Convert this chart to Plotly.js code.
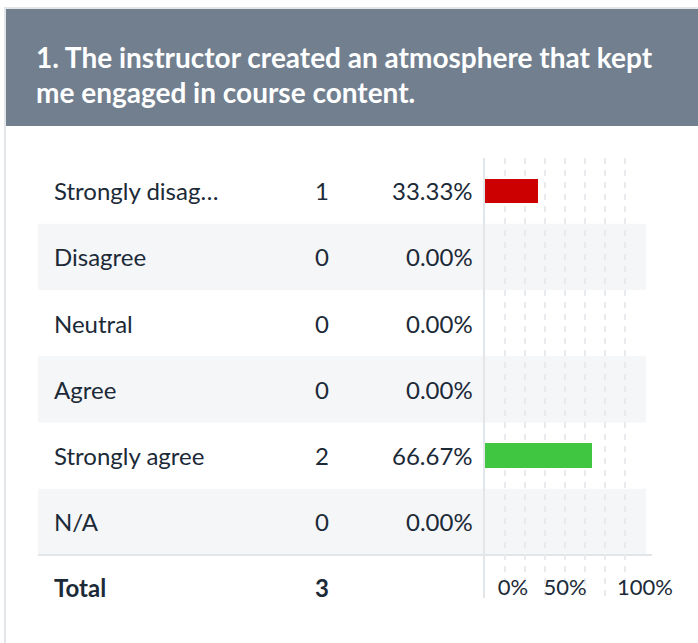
<!DOCTYPE html>
<html>
<head>
<meta charset="utf-8">
<script src="https://cdn.plot.ly/plotly-3.0.1.min.js"></script>
<style>
html,body{margin:0;padding:0;background:#fff;}
#chart{width:698px;height:643px;}
</style>
</head>
<body>
<div id="chart"></div>
<script>
// ---- data ----
var titleLines = ["1. The instructor created an atmosphere that kept", "me engaged in course content."];
var categories = ["Strongly disag\u2026", "Disagree", "Neutral", "Agree", "Strongly agree", "N/A"];
var counts = [1, 0, 0, 0, 2, 0];
var percents = [33.33, 0, 0, 0, 66.67, 0];
var barColors = ["#cc0000", "#cc0000", "#cc0000", "#cc0000", "#40c640", "#cc0000"];
var totalLabel = "Total";
var totalCount = 3;
var gridVals = [12.5, 25, 37.5, 50, 62.5, 75, 87.5, 100];
var tickVals = [17.5, 50, 100];
var tickText = ["0%", "50%", "100%"];

// ---- layout helpers ----
var W = 698, H = 643;
function px(x){ return x / W; }
function py(y){ return 1 - y / H; }
var FONT = "Lato, 'Open Sans', sans-serif";
var TXT = "#1c2a38";
var BORDER = "#e3e6e9";
var ROWFS = 24;

var shapes = [
  {type:"rect", xref:"paper", yref:"paper", x0:px(4), x1:1, y0:py(9), y1:py(7), fillcolor:BORDER, line:{width:0}, layer:"below"},
  {type:"rect", xref:"paper", yref:"paper", x0:px(4), x1:px(6), y0:0, y1:py(7), fillcolor:BORDER, line:{width:0}, layer:"below"},
  {type:"rect", xref:"paper", yref:"paper", x0:px(6), x1:1, y0:py(126), y1:py(9), fillcolor:"#717f8f", line:{width:0}, layer:"below"}
];
categories.forEach(function(c, i){
  if (i % 2 === 1) {
    shapes.push({type:"rect", xref:"paper", yref:"y", x0:px(38), x1:px(646), y0:i-0.5, y1:i+0.5,
      fillcolor:"#f5f6f8", line:{width:0}, layer:"below"});
  }
});
shapes.push({type:"line", xref:"paper", yref:"y", x0:px(38), x1:px(652), y0:categories.length-0.5, y1:categories.length-0.5,
  line:{color:BORDER, width:2}, layer:"below"});

var annotations = [];
titleLines.forEach(function(t, i){
  annotations.push({xref:"paper", yref:"paper", x:px(34), y:py(57 + i*35), xanchor:"left", yanchor:"middle",
    text:"<b>"+t+"</b>", showarrow:false, font:{family:FONT, size:28, color:"#ffffff"}});
});
categories.forEach(function(c, i){
  annotations.push({xref:"paper", yref:"y", x:px(52), y:c, xanchor:"left", yanchor:"middle", text:c, showarrow:false,
    font:{family:FONT, size:ROWFS, color:TXT}});
  annotations.push({xref:"paper", yref:"y", x:px(322), y:c, xanchor:"center", yanchor:"middle", text:String(counts[i]), showarrow:false,
    font:{family:FONT, size:ROWFS, color:TXT}});
  annotations.push({xref:"paper", yref:"y", x:px(475), y:c, xanchor:"right", yanchor:"middle", text:percents[i].toFixed(2)+"%", showarrow:false,
    font:{family:FONT, size:ROWFS, color:TXT}});
});
annotations.push({xref:"paper", yref:"paper", x:px(52), y:py(587), xanchor:"left", yanchor:"middle", text:"<b>"+totalLabel+"</b>", showarrow:false,
  font:{family:FONT, size:ROWFS, color:TXT}});
annotations.push({xref:"paper", yref:"paper", x:px(322), y:py(587), xanchor:"center", yanchor:"middle", text:"<b>"+totalCount+"</b>", showarrow:false,
  font:{family:FONT, size:ROWFS, color:TXT}});

var trace = {
  type:"bar", orientation:"h",
  x: percents, y: categories,
  marker:{color: barColors, line:{width:0}},
  width: 0.365,
  hoverinfo:"none", showlegend:false
};

var layout = {
  width: W, height: H,
  margin:{l:0, r:0, t:0, b:0},
  paper_bgcolor:"#ffffff", plot_bgcolor:"rgba(0,0,0,0)",
  font:{family:FONT, color:TXT},
  xaxis:{domain:[px(485), px(645)], range:[0,100], fixedrange:true,
    tickmode:"array", tickvals:gridVals, showticklabels:false, ticks:"",
    showgrid:true, gridcolor:"#e8eaed", gridwidth:2, griddash:"6px,6px", zeroline:false, showline:false},
  xaxis2:{overlaying:"x", anchor:"free", position:py(572), side:"bottom", range:[0,100], fixedrange:true,
    tickmode:"array", tickvals:tickVals, ticktext:tickText, ticks:"", showgrid:false, zeroline:false, showline:false,
    tickfont:{family:FONT, size:22, color:TXT}},
  yaxis:{domain:[py(598), py(157.5)], type:"category", range:[6.15, -0.5], fixedrange:true,
    showticklabels:false, ticks:"", showgrid:false, zeroline:false,
    showline:true, linecolor:BORDER, linewidth:2},
  shapes: shapes,
  annotations: annotations,
  bargap: 0
};

var trace2 = {type:"scatter", x:[0], y:[categories[0]], xaxis:"x2", mode:"markers", marker:{opacity:0}, hoverinfo:"none", showlegend:false};

Plotly.newPlot("chart", [trace, trace2], layout, {displayModeBar:false, staticPlot:true});
</script>
</body>
</html>
